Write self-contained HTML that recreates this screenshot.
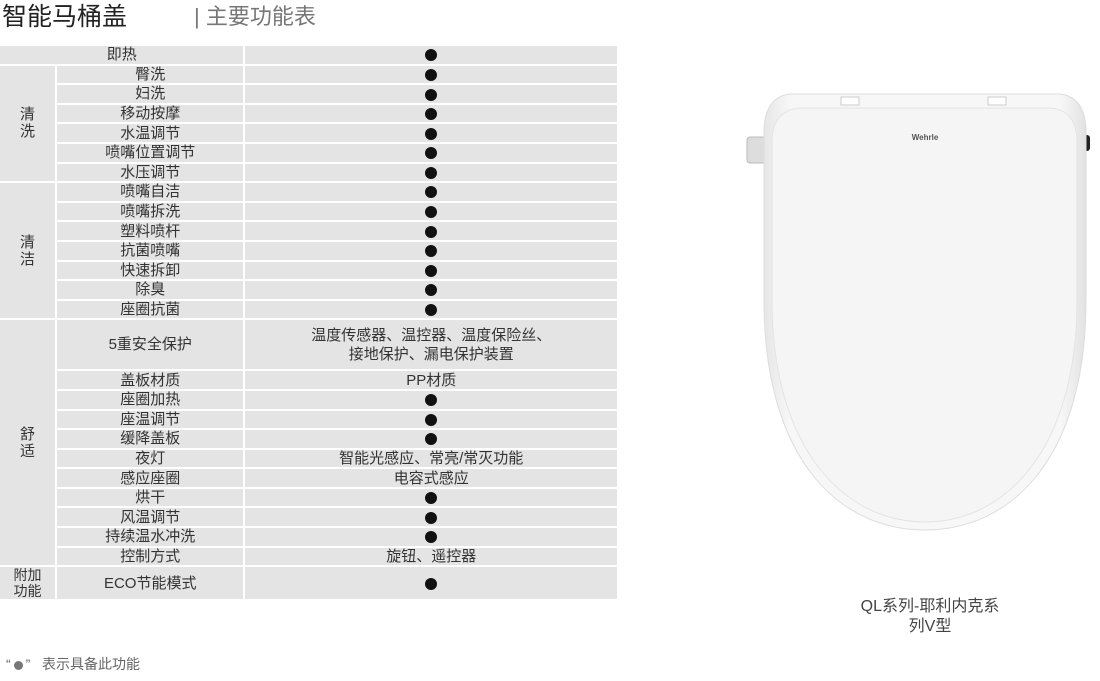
<!DOCTYPE html>
<html><head><meta charset="utf-8"><style>
body{margin:0;width:1100px;height:681px;background:#fff;position:relative;overflow:hidden;font-family:"Liberation Sans","Noto Sans CJK SC",sans-serif;color:#333}
.t1{position:absolute;left:2px;top:1px;font-size:25px;color:#222;line-height:32px}
.t2{position:absolute;left:194px;top:3px;font-size:22px;color:#777;line-height:28px}
table{position:absolute;left:-2px;top:44px;border-collapse:separate;border-spacing:2px;table-layout:fixed;width:621px}
td{background:#e4e4e4;padding:0;text-align:center;font-size:15px;line-height:17px;overflow:hidden;white-space:nowrap}
tr.s{height:17.6px}
.d{display:inline-block;width:12px;height:12px;border-radius:50%;background:#111;vertical-align:middle}
.note{position:absolute;left:6px;top:654px;font-size:14px;color:#666}
.cap{position:absolute;left:830px;width:200px;top:597px;text-align:center;font-size:16px;line-height:20px;color:#444}
</style></head><body>
<div class="t1">智能马桶盖</div>
<div class="t2">| 主要功能表</div>
<table>
<colgroup><col style="width:55px"><col style="width:186px"><col style="width:371px"></colgroup>
<tr class="s"><td colspan="2">即热</td><td><span class="d"></span></td></tr>
<tr class="s"><td rowspan="6">清<br>洗</td><td>臀洗</td><td><span class="d"></span></td></tr>
<tr class="s"><td>妇洗</td><td><span class="d"></span></td></tr>
<tr class="s"><td>移动按摩</td><td><span class="d"></span></td></tr>
<tr class="s"><td>水温调节</td><td><span class="d"></span></td></tr>
<tr class="s"><td>喷嘴位置调节</td><td><span class="d"></span></td></tr>
<tr class="s"><td>水压调节</td><td><span class="d"></span></td></tr>
<tr class="s"><td rowspan="7">清<br>洁</td><td>喷嘴自洁</td><td><span class="d"></span></td></tr>
<tr class="s"><td>喷嘴拆洗</td><td><span class="d"></span></td></tr>
<tr class="s"><td>塑料喷杆</td><td><span class="d"></span></td></tr>
<tr class="s"><td>抗菌喷嘴</td><td><span class="d"></span></td></tr>
<tr class="s"><td>快速拆卸</td><td><span class="d"></span></td></tr>
<tr class="s"><td>除臭</td><td><span class="d"></span></td></tr>
<tr class="s"><td>座圈抗菌</td><td><span class="d"></span></td></tr>
<tr style="height:49px"><td rowspan="11">舒<br>适</td><td>5重安全保护</td><td style="line-height:19px">温度传感器、温控器、温度保险丝、<br>接地保护、漏电保护装置</td></tr>
<tr class="s"><td>盖板材质</td><td>PP材质</td></tr>
<tr class="s"><td>座圈加热</td><td><span class="d"></span></td></tr>
<tr class="s"><td>座温调节</td><td><span class="d"></span></td></tr>
<tr class="s"><td>缓降盖板</td><td><span class="d"></span></td></tr>
<tr class="s"><td>夜灯</td><td>智能光感应、常亮/常灭功能</td></tr>
<tr class="s"><td>感应座圈</td><td>电容式感应</td></tr>
<tr class="s"><td>烘干</td><td><span class="d"></span></td></tr>
<tr class="s"><td>风温调节</td><td><span class="d"></span></td></tr>
<tr class="s"><td>持续温水冲洗</td><td><span class="d"></span></td></tr>
<tr class="s"><td>控制方式</td><td>旋钮、遥控器</td></tr>
<tr style="height:31px"><td style="font-size:14px;line-height:16px">附加<br>功能</td><td>ECO节能模式</td><td><span class="d"></span></td></tr>
</table>
<svg style="position:absolute;left:0;top:0" width="1100" height="681">
<defs><linearGradient id="g" x1="0" x2="1"><stop offset="0" stop-color="#e6e6e6"/><stop offset="0.08" stop-color="#f7f7f7"/><stop offset="0.92" stop-color="#f7f7f7"/><stop offset="1" stop-color="#e2e2e2"/></linearGradient></defs>
<rect x="747" y="137" width="18" height="26" rx="3" fill="#ddd" stroke="#bbb"/>
<rect x="1080" y="135" width="10" height="16" rx="3" fill="#222"/>
<path d="M790 94 L1060 94 Q1085 97 1086 130 L1086 300 C1086 460 1010 530 925 530 C840 530 764 460 764 300 L764 130 Q765 97 790 94 Z" fill="url(#g)" stroke="#ddd"/>
<path d="M800 108 L1050 108 Q1076 110 1077 140 L1077 300 C1077 450 1005 522 925 522 C845 522 772 450 772 300 L772 140 Q773 110 800 108 Z" fill="#f5f5f5" stroke="#e4e4e4"/>
<rect x="841" y="97" width="18" height="8" fill="#fff" stroke="#ccc"/>
<rect x="988" y="97" width="18" height="8" fill="#fff" stroke="#ccc"/>
<text x="925" y="140" font-size="8" font-weight="bold" fill="#555" text-anchor="middle" font-family="Liberation Sans">Wehrle</text>
</svg>
<div class="cap">QL系列-耶利内克系<br>列V型</div>
<div class="note">“<span style="display:inline-block;width:9px;height:9px;border-radius:50%;background:#777;vertical-align:middle;margin:0 3px"></span>”&nbsp;&nbsp;&nbsp;表示具备此功能</div>
</body></html>
